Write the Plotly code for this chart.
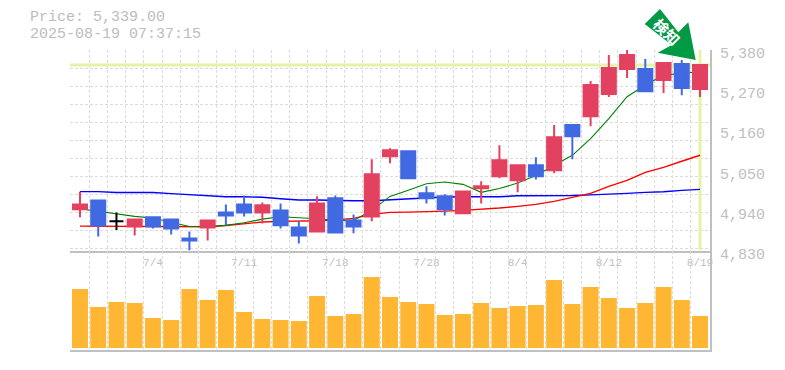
import plotly.graph_objects as go

W, H = 785, 370

idx = list(range(35))
opens = [4943,4967.5,4910,4896,4921,4915,4863,4893,4934.5,4956.5,4934.5,4940,4893,4882,4973,4912.5,4923.5,5088.5,5102,4987,4978.5,4932,5000.5,5033.5,5022.5,5063.75,5050,5174,5198.5,5259,5327.75,5327.75,5297.5,5341.5,5272.75]
highs = [4991,4967.5,4934.5,4918,4921,4918,4882,4912.5,4956.5,4981,4962,4959,4910,4978.5,4981,4929,5080,5110.5,5102,5006,4984,4992,5020,5119,5066.5,5085.75,5174,5174,5294.75,5366,5380,5355,5344,5352.5,5339]
lows = [4921,4868.5,4886,4871,4890.5,4874,4830,4857.5,4899,4923.5,4904,4890.5,4849,4882,4879.5,4877,4910,5069,5028,4959,4926,4932,4959,5028,4989.5,5025,5041.75,5080,5171,5250.75,5303,5267,5261.75,5256,5250.75]
closes = [4956,4899,4910,4915,4896,4890.5,4857.5,4912.5,4926,4934.5,4954,4899,4871,4959,4879.5,4896,5039,5105,5028,4973,4943,4992,5006,5077.5,5064,5033.5,5140.75,5143.5,5283.75,5330.5,5366,5267,5344,5275.5,5339]

ma_green = [4944.6,4937,4931,4923.5,4919,4908,4896,4896,4899,4906,4916,4922.6,4920,4917,4912.5,4912.5,4940,4978.5,4995,5013,5018,5011.5,4989.5,5000,5015,5036,5063.75,5091,5137,5192,5251.7,5283.75,5311,5315.8,5320.4]
ma_red = [4897,4897,4897,4897,4897,4896,4895,4895,4898.7,4903,4908,4910,4910,4911.6,4914,4918,4929,4934.5,4935.4,4936,4938,4940,4942.7,4946.4,4951,4956.5,4964.75,4975.75,4986.75,5006,5022.5,5044.5,5058,5074.75,5091.25]
ma_blue = [4991.5,4991.5,4989,4989,4989,4986,4983,4980,4977.5,4977.5,4976,4972,4968.5,4968.4,4966.6,4966.6,4966.6,4969,4973,4975,4976.7,4977.6,4977.6,4977.6,4980,4980,4981,4981,4982.6,4984,4986.75,4989.5,4991,4995,4997.75]
volume = [59,41,46,45,30,28,59,48,58,36,29,28,27,52,32,34,71,51,46,44,33,34,45,40,42,43,68,44,61,50,40,45,61,48,32]

date_ticks = [4, 9, 14, 19, 24, 29, 34]
date_labels = ["7/4", "7/11", "7/18", "7/28", "8/4", "8/12", "8/19"]
price_ticks = [5380, 5270, 5160, 5050, 4940, 4830]
price_labels = ["5,380", "5,270", "5,160", "5,050", "4,940", "4,830"]
price_grid = [5380, 5330.5, 5281, 5231.5, 5182, 5132.5, 5083, 5033.5, 4984, 4934.5, 4885, 4835.5]
candle_grid = [i - 0.5 for i in range(36)]
last_price = 5339.0
title_price = "Price: 5,339.00"
title_time = "2025-08-19 07:37:15"
badge_text = "検知"

FONT = "Liberation Mono, monospace"
GRAY = "#c0c0c0"
GRID = "#dcdcdc"
RED = "#e2425f"
BLUE = "#4169e1"
MARK = "#e3f4a8"

is_doji = [o == c for o, c in zip(opens, closes)]
def pick(vals, keep):
    return [v for v, k in zip(vals, keep) if k]
normal = [not d for d in is_doji]

fig = go.Figure()
# current-price markers
fig.add_trace(go.Scatter(x=[-0.55, 34.55], y=[last_price, last_price], mode="lines",
                         line=dict(color=MARK, width=3), xaxis="x", yaxis="y", hoverinfo="skip"))
fig.add_trace(go.Scatter(x=[34, 34], y=[4830, 5380], mode="lines",
                         line=dict(color=MARK, width=3), xaxis="x", yaxis="y", hoverinfo="skip"))
for vals, col, w in [(ma_blue, "#0000ff", 1.4), (ma_red, "#ff0000", 1.4), (ma_green, "#008000", 1.1)]:
    fig.add_trace(go.Scatter(x=idx, y=vals, mode="lines", line=dict(color=col, width=w),
                             xaxis="x", yaxis="y", hoverinfo="skip"))
# candles live on an overlaying subplot so that they cover the average lines
fig.add_trace(go.Candlestick(
    x=pick(idx, normal), open=pick(opens, normal), high=pick(highs, normal),
    low=pick(lows, normal), close=pick(closes, normal),
    increasing=dict(line=dict(color=RED, width=2), fillcolor=RED),
    decreasing=dict(line=dict(color=BLUE, width=2), fillcolor=BLUE),
    whiskerwidth=0, xaxis="x3", yaxis="y3", hoverinfo="skip"))
fig.add_trace(go.Candlestick(
    x=pick(idx, is_doji), open=pick(opens, is_doji), high=pick(highs, is_doji),
    low=pick(lows, is_doji), close=pick(closes, is_doji),
    increasing=dict(line=dict(color="#000000", width=2), fillcolor="#000000"),
    decreasing=dict(line=dict(color="#000000", width=2), fillcolor="#000000"),
    whiskerwidth=0, xaxis="x3", yaxis="y3", hoverinfo="skip"))
fig.add_trace(go.Bar(x=idx, y=volume, width=0.877, marker=dict(color="#ffb733", line=dict(width=0)),
                     xaxis="x2", yaxis="y2", hoverinfo="skip"))

x_range = [-0.548, 34.548]
y_range = [4830, 5380]
x_domain = [70 / W, 710 / W]
y_domain = [(H - 250.5) / H, (H - 50) / H]
common_x = dict(range=x_range, domain=x_domain, showgrid=False, zeroline=False, automargin=False,
                showline=True, linecolor=GRAY, linewidth=2, ticks="",
                minor=dict(tickmode="array", tickvals=candle_grid, showgrid=True, gridcolor=GRID,
                           griddash="3px,2px", gridwidth=1, ticks=""))
fig.update_layout(
    width=W, height=H, autosize=False, showlegend=False,
    paper_bgcolor="white", plot_bgcolor="white",
    margin=dict(l=0, r=0, t=0, b=0, pad=0, autoexpand=False),
    boxgap=0.232, boxgroupgap=0, boxmode="overlay",
    xaxis=dict(anchor="y", tickmode="array", tickvals=date_ticks, ticktext=date_labels,
               ticklabelposition="outside", tickfont=dict(family=FONT, size=11, color=GRAY),
               ticklabelstandoff=0, rangeslider=dict(visible=False), **common_x),
    xaxis2=dict(anchor="y2", tickmode="array", tickvals=[], **common_x),
    xaxis3=dict(overlaying="x", anchor="y3", range=x_range, domain=x_domain, visible=False,
                rangeslider=dict(visible=False)),
    yaxis=dict(domain=y_domain, range=y_range, side="right", anchor="x",
               tickmode="array", tickvals=price_ticks, ticktext=price_labels, automargin=False,
               tickfont=dict(family=FONT, size=15, color=GRAY), ticklabelshift=3,
               ticklabeloverflow="allow", ticklabelstandoff=5,
               showgrid=False, zeroline=False, showline=True, linecolor=GRAY, linewidth=2, ticks="",
               minor=dict(tickmode="array", tickvals=price_grid, showgrid=True, gridcolor=GRID,
                          griddash="3px,2px", gridwidth=1, ticks="")),
    yaxis2=dict(domain=[(H - 349.5) / H, (H - 250.5) / H], range=[-1.5, 97.5], side="right", anchor="x2",
                showticklabels=False, showgrid=False, zeroline=False, showline=True, automargin=False,
                linecolor=GRAY, linewidth=2, ticks=""),
    yaxis3=dict(overlaying="y", anchor="x3", range=y_range, domain=y_domain, visible=False),
    shapes=[dict(type="path", xref="paper", yref="paper", layer="above", line=dict(width=0),
                 fillcolor="#009944",
                 path="M {} {} L {} {} L {} {} L {} {} L {} {} L {} {} L {} {} Z".format(
                     *[v for px, py in [(660, 9), (644.7, 24), (671.7, 45), (657.7, 52.7),
                                        (695.7, 60), (688.3, 22.3), (678.3, 32.3)]
                       for v in (px / W, 1 - py / H)]))],
    annotations=[
        dict(text=title_price, xref="paper", yref="paper", x=28 / W, y=1 - 17.5 / H, xanchor="left",
             yanchor="middle", showarrow=False, font=dict(family=FONT, size=15, color="#bdbdbd")),
        dict(text=title_time, xref="paper", yref="paper", x=28 / W, y=1 - 34.5 / H, xanchor="left",
             yanchor="middle", showarrow=False, font=dict(family=FONT, size=15, color="#bdbdbd")),
        dict(text=badge_text, xref="paper", yref="paper", x=667 / W, y=1 - 31.5 / H, xanchor="center",
             yanchor="middle", showarrow=False, textangle=45,
             font=dict(family="Noto Sans CJK JP", size=15, color="white", weight="bold")),
    ],
)
fig.write_html("out.html", config=dict(displayModeBar=False),
               post_script="document.body.style.margin='0';")
